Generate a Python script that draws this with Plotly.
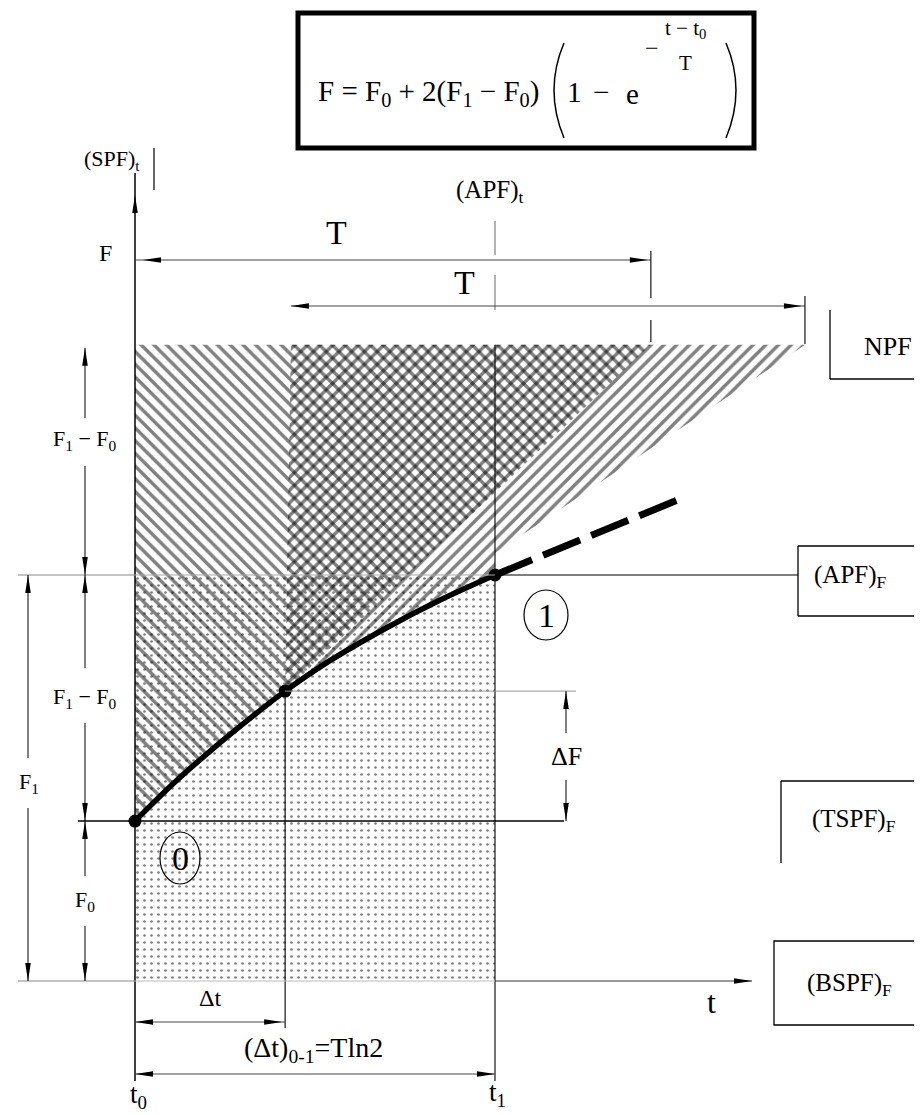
import plotly.graph_objects as go

# ---------------- data (diagram units: t measured in (t1 - t0), F measured in F1) ----------------
curve_t = [0.000, 0.111, 0.203, 0.314, 0.417, 0.536, 0.703, 0.842, 1.000]
curve_F = [0.394, 0.490, 0.562, 0.643, 0.714, 0.786, 0.872, 0.936, 1.000]
ext_t = [1.000, 1.258, 1.522]
ext_F = [1.000, 1.096, 1.190]
point_t = [0.000, 0.417, 1.000]          # t0, t0+dt, t1
point_F = [0.394, 0.714, 1.000]          # F0, F(t0+dt), F1
F_base = 0.0
F_npf = 1.567                            # NPF level (top of hatching)
tau1_span = [0.000, 1.433]               # first T
tau2_span = [0.433, 1.861]               # second T
npf_edge_F = 1.054                       # lower edge of NPF wedge at t1

# ---------------- canvas mapping ----------------
W, H = 922, 1115
PX_T0, PX_PER_T = 127.0, 360.0
PX_FB, PX_PER_F = 973.0, 406.0
def X(px): return (px - PX_T0) / PX_PER_T
def Y(py): return (PX_FB - py) / PX_PER_F
def pxX(t): return PX_T0 + t * PX_PER_T
def pxY(F): return PX_FB - F * PX_PER_F

FONT = "Liberation Serif"
fig = go.Figure()

# ---------------- regions ----------------
def region(xs, ys, shape, size, solidity, color):
    fig.add_trace(go.Scatter(
        x=xs, y=ys, mode="none", fill="toself", fillcolor="rgba(0,0,0,0)",
        fillpattern=dict(shape=shape, size=size, solidity=solidity,
                         fgcolor=color, bgcolor="rgba(0,0,0,0)"),
        hoverinfo="skip", showlegend=False))

# stipple (below APF level between t0 and t1)
region([point_t[0], point_t[2], point_t[2], point_t[0]],
       [F_base, F_base, point_F[2], point_F[2]], ".", 7, 0.12, "#000")
# back-hatch wedge above curve
region([point_t[0], tau1_span[1]] + curve_t[4::-1],
       [F_npf, F_npf] + curve_F[4::-1], "\\", 9, 0.38, "#000")
# forward-hatch wedge (NPF)
region([tau2_span[0], tau2_span[1], point_t[2]] + curve_t[8:3:-1],
       [F_npf, F_npf, npf_edge_F] + curve_F[8:3:-1], "/", 9, 0.38, "#000")

shapes = []
def seg(x0, y0, x1, y1, color="black", width=1.3, dash=None):
    ln = dict(color=color, width=width)
    if dash:
        ln["dash"] = dash
    shapes.append(dict(type="line", xref="x", yref="y", x0=X(x0), y0=Y(y0),
                       x1=X(x1), y1=Y(y1), line=ln, layer="above"))

def head(px, py, d, L=18, w=2.8):
    if d == "left":
        pts = [(px, py), (px + L, py - w), (px + L, py + w)]
    elif d == "right":
        pts = [(px, py), (px - L, py - w), (px - L, py + w)]
    elif d == "up":
        pts = [(px, py), (px - w, py + L), (px + w, py + L)]
    else:
        pts = [(px, py), (px - w, py - L), (px + w, py - L)]
    path = "M {},{} L {},{} L {},{} Z".format(
        X(pts[0][0]), Y(pts[0][1]), X(pts[1][0]), Y(pts[1][1]), X(pts[2][0]), Y(pts[2][1]))
    shapes.append(dict(type="path", xref="x", yref="y", path=path,
                       fillcolor="black", line=dict(width=0), layer="above"))

def curve_path(p0, pc, p1, width=1.3):
    path = "M {},{} Q {},{} {},{}".format(X(p0[0]), Y(p0[1]), X(pc[0]), Y(pc[1]), X(p1[0]), Y(p1[1]))
    shapes.append(dict(type="path", xref="x", yref="y", path=path,
                       line=dict(color="black", width=width), layer="above"))

def rect(x0, y0, x1, y1, width=1.3):
    shapes.append(dict(type="rect", xref="x", yref="y", x0=X(x0), y0=Y(y0), x1=X(x1), y1=Y(y1),
                       line=dict(color="black", width=width), fillcolor="rgba(0,0,0,0)", layer="above"))

def circle(cx, cy, rx, ry):
    shapes.append(dict(type="circle", xref="x", yref="y", x0=X(cx - rx), y0=Y(cy - ry),
                       x1=X(cx + rx), y1=Y(cy + ry), line=dict(color="black", width=1.2), layer="above"))

ann = []
def label(px, py, text, size=20, xanchor="center"):
    ann.append(dict(x=X(px), y=Y(py), xref="x", yref="y", text=text, showarrow=False,
                    xanchor=xanchor, yanchor="middle", font=dict(family=FONT, size=size, color="black")))

pt0x, pdx, pt1x = pxX(point_t[0]), pxX(point_t[1]), pxX(point_t[2])
pF0, pFm, pF1 = pxY(point_F[0]), pxY(point_F[1]), pxY(point_F[2])
pNPF = pxY(F_npf)
pB = pxY(F_base)
pT1e = pxX(tau1_span[1]); pT2s = pxX(tau2_span[0]); pT2e = pxX(tau2_span[1])

# ---------------- formula box ----------------
rect(290, 5, 746, 140, width=5)
label(308, 85, "F = F<sub>0</sub> + 2(F<sub>1</sub> − F<sub>0</sub>)", 29, "left")
curve_path((556, 35), (536, 82), (556, 130), 1.5)
label(566, 84, "1", 29)
label(593, 84, "−", 29)
label(624, 86, "e", 29)
label(644, 40, "−", 24)
label(677, 21, "t − t<sub>0</sub>", 21)
label(677, 55, "T", 21)
curve_path((718, 35), (738, 82), (718, 130), 1.5)

# ---------------- main axes ----------------
seg(pt0x, 165, pt0x, 1073, width=1.5)
head(pt0x, 187, "up")
label(104, 152, "(SPF)<sub>t</sub>", 22)
seg(146, 140, 146, 182, width=1.2)
label(97, 245, "F", 24)

# (APF)t marker
label(482, 183, "(APF)<sub>t</sub>", 25)
seg(pt1x, 213, pt1x, 247, color="#666", width=1)
seg(pt1x, 267, pt1x, 302, color="#666", width=1)

# T dimensions
seg(pt0x, 252, pT1e, 252, color="#444", width=1)
head(pt0x + 8, 252, "left"); head(pT1e - 3, 252, "right")
seg(pT1e, 243, pT1e, 290, width=1.1)
seg(pT1e, 312, pT1e, 334, width=1.1)
label(328, 224, "T", 34)
seg(pT2s, 298, pT2e, 298, color="#444", width=1)
head(pT2s, 298, "left"); head(pT2e - 3, 298, "right")
seg(pT2e, 288, pT2e, 336, width=1.1)
label(456, 274, "T", 34)

# NPF bracket
seg(822, 302, 822, 371); seg(822, 371, 922, 371)
label(880, 338, "NPF", 26)

# t1 vertical, dt vertical
seg(pt1x, pNPF, pt1x, 1073, width=1.1)
seg(pdx, pFm, pdx, 1020, width=1.1)

# horizontal levels
seg(10, pF1, pt0x, pF1, color="#888", width=1)
seg(pt0x, pF1, pt1x, pF1, color="#aaa", width=1)
seg(pt1x, pF1, 790, pF1, width=1.2)
seg(70, pF0, 556, pF0, width=1.5)
seg(pdx, pFm, 568, pFm, color="#999", width=1)
seg(10, pB, pt0x, pB, color="#888", width=1)
seg(pt0x, pB, pt1x, pB, color="#bbb", width=1)
seg(pt1x, pB, 744, pB, color="#333", width=1.1)
head(744, pB, "right")
label(703, 994, "t", 32)

# left dimension chain (x=77)
cx = 77
head(cx, pNPF + 3, "up"); seg(cx, pNPF + 3, cx, 410, width=1)
label(cx, 432, "F<sub>1</sub> − F<sub>0</sub>", 22)
seg(cx, 458, cx, pF1, width=1); head(cx, pF1, "down")
head(cx, pF1, "up"); seg(cx, pF1, cx, 660, width=1)
label(cx, 690, "F<sub>1</sub> − F<sub>0</sub>", 22)
seg(cx, 715, cx, pF0, width=1); head(cx, pF0, "down")
head(cx, pF0, "up"); seg(cx, pF0, cx, 868, width=1)
label(cx, 893, "F<sub>0</sub>", 22)
seg(cx, 918, cx, pB, width=1); head(cx, pB, "down")
# x=20 chain
head(20, pF1, "up"); seg(20, pF1, 20, 750, width=1)
label(21, 775, "F<sub>1</sub>", 22)
seg(20, 800, 20, pB, width=1); head(20, pB, "down")

# Delta F
head(558, pFm, "up"); seg(558, pFm, 558, 725, width=1)
label(558, 748, "ΔF", 26)
seg(558, 772, 558, pF0, width=1); head(558, pF0, "down")

# Delta t and (Delta t)0-1
seg(pt0x, 1014, pdx, 1014, color="#444", width=1)
head(pt0x, 1014, "left"); head(pdx - 3, 1014, "right")
label(202, 990, "Δt", 24)
seg(pt0x, 1066, pt1x, 1066, color="#444", width=1)
head(pt0x, 1066, "left"); head(pt1x, 1066, "right")
label(305, 1041, "(Δt)<sub>0-1</sub>=Tln2", 28)
label(130, 1088, "t<sub>0</sub>", 27)
label(489, 1086, "t<sub>1</sub>", 27)

# boxes
seg(790, 538, 909, 538); seg(790, 538, 790, 608); seg(790, 608, 909, 608)
label(842, 568, "(APF)<sub>F</sub>", 25)
seg(773, 773, 920, 773); seg(773, 773, 773, 855); seg(918, 773, 918, 855)
label(846, 812, "(TSPF)<sub>F</sub>", 25)
rect(766, 933, 915, 1017)
label(841, 976, "(BSPF)<sub>F</sub>", 25)

# circled labels
circle(538, 607, 22, 25)
label(538, 607, "1", 34)
circle(172, 850, 20, 26)
label(172, 850, "0", 34)

# ---------------- curve ----------------
fig.add_trace(go.Scatter(x=ext_t, y=ext_F, mode="lines",
                         line=dict(color="black", width=7, dash="40px,12px"),
                         hoverinfo="skip", showlegend=False))
fig.add_trace(go.Scatter(x=curve_t, y=curve_F, mode="lines", line_shape="spline",
                         line=dict(color="black", width=5.5), hoverinfo="skip", showlegend=False))
fig.add_trace(go.Scatter(x=point_t, y=point_F, mode="markers",
                         marker=dict(color="black", size=13), hoverinfo="skip", showlegend=False))

fig.update_layout(
    width=W, height=H, margin=dict(l=0, r=0, t=0, b=0),
    paper_bgcolor="white", plot_bgcolor="white",
    xaxis=dict(range=[X(0), X(W)], visible=False, fixedrange=True),
    yaxis=dict(range=[Y(H), Y(0)], visible=False, fixedrange=True),
    shapes=shapes, annotations=ann, showlegend=False,
)
fig.write_html("out.html")
